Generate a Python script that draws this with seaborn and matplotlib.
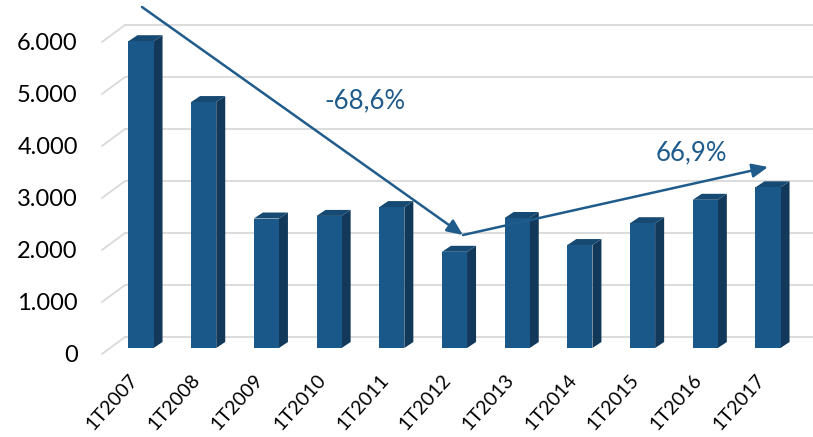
import matplotlib
matplotlib.use("Agg")
import matplotlib.pyplot as plt
from matplotlib.patches import Polygon
from matplotlib.transforms import ScaledTranslation
import seaborn as sns
import pandas as pd

categories = ["1T2007", "1T2008", "1T2009", "1T2010", "1T2011", "1T2012",
              "1T2013", "1T2014", "1T2015", "1T2016", "1T2017"]
values = [5900, 4730, 2490, 2540, 2710, 1850, 2500, 1980, 2400, 2850, 3090]
yticks = [0, 1000, 2000, 3000, 4000, 5000, 6000]
ytick_labels = ["0", "1.000", "2.000", "3.000", "4.000", "5.000", "6.000"]
ann_down = "-68,6%"
ann_up = "66,9%"

FRONT = "#1A5889"
SIDE = "#12385A"
TOP = "#174A73"
TXT = "#1F5C8C"

sns.set_theme(style="white")
plt.rcParams['font.family'] = ['Lato', 'DejaVu Sans']

W, H, DPI = 8.13, 4.37, 100
fig = plt.figure(figsize=(W, H), dpi=DPI)
ax = fig.add_axes([100 / 813, (437 - 360) / 437, 713 / 813, 350 / 437])

df = pd.DataFrame({"cat": categories, "val": values})
sns.barplot(data=df, x="cat", y="val", color=FRONT, width=0.4,
            saturation=1, ax=ax, edgecolor="none")

spacing_px = 62.7
xl = -(141 - 100) / spacing_px
xr = 10 + (813 - 768) / spacing_px
ax.set_xlim(xl, xr)
ppk = 52.0  # px per 1000
ax.set_ylim(-(360 - 348) / ppk * 1000, (348 - 10) / ppk * 1000)

px_x = (xr - xl) / 713.0
px_y = (ax.get_ylim()[1] - ax.get_ylim()[0]) / 350.0

bdx, bdy = 15, 11
fdx, fdy = -8, -6
for t in yticks:
    yb = t + bdy * px_y
    ax.plot([xl + (125 - 100) * px_x, xr], [yb, yb], color="#D9D9D9",
            lw=1.3, zorder=0, clip_on=False)
    ax.plot([xl + (102 - 100) * px_x, xl + (125 - 100) * px_x],
            [t + fdy * px_y, yb], color="#D9D9D9", lw=1.3, zorder=0,
            clip_on=False)

sdx, sdy = 9, 6
for p in list(ax.patches):
    x0 = p.get_x()
    w = p.get_width()
    h = p.get_height()
    x1 = x0 + w
    side = Polygon([(x1, 0), (x1 + sdx * px_x, sdy * px_y),
                    (x1 + sdx * px_x, h + sdy * px_y), (x1, h)],
                   closed=True, facecolor=SIDE, edgecolor="none", zorder=3)
    top = Polygon([(x0, h), (x0 + sdx * px_x, h + sdy * px_y),
                   (x1 + sdx * px_x, h + sdy * px_y), (x1, h)],
                  closed=True, facecolor=TOP, edgecolor="none", zorder=3)
    ax.add_patch(side)
    ax.add_patch(top)
    p.set_zorder(4)

def pt(px, py):
    return (xl + (px - 100) * px_x, ax.get_ylim()[1] - (py - 10) * px_y)

arrow = dict(arrowstyle="-|>,head_length=0.8,head_width=0.35",
             color=TXT, lw=1.8, shrinkA=0, shrinkB=0)
ax.annotate("", xy=pt(463, 235), xytext=pt(142, 7), arrowprops=arrow,
            annotation_clip=False, zorder=6)
ax.annotate("", xy=pt(768, 167), xytext=pt(463, 235), arrowprops=arrow,
            annotation_clip=False, zorder=6)
ax.text(*pt(365, 101), ann_down, color=TXT, fontsize=18.5,
        ha="center", va="center", zorder=7)
ax.text(*pt(691, 153), ann_up, color=TXT, fontsize=18.5,
        ha="center", va="center", zorder=7)

for s in ax.spines.values():
    s.set_visible(False)
ax.grid(False)
ax.set_xlabel("")
ax.set_ylabel("")
ax.set_yticks(yticks)
ax.set_yticklabels(ytick_labels, fontsize=17, color="black")
ax.set_xticks(range(len(categories)))
ax.set_xticklabels(categories, rotation=48, rotation_mode="default",
                   ha="right", va="top", fontsize=14, color="black")
ax.tick_params(axis="y", length=0, pad=16)
ax.tick_params(axis="x", length=0, pad=8)

for lbl in ax.get_yticklabels():
    lbl.set_transform(lbl.get_transform() +
                      ScaledTranslation(0, -6 / DPI, fig.dpi_scale_trans))

fig.savefig("out.png", dpi=DPI)
